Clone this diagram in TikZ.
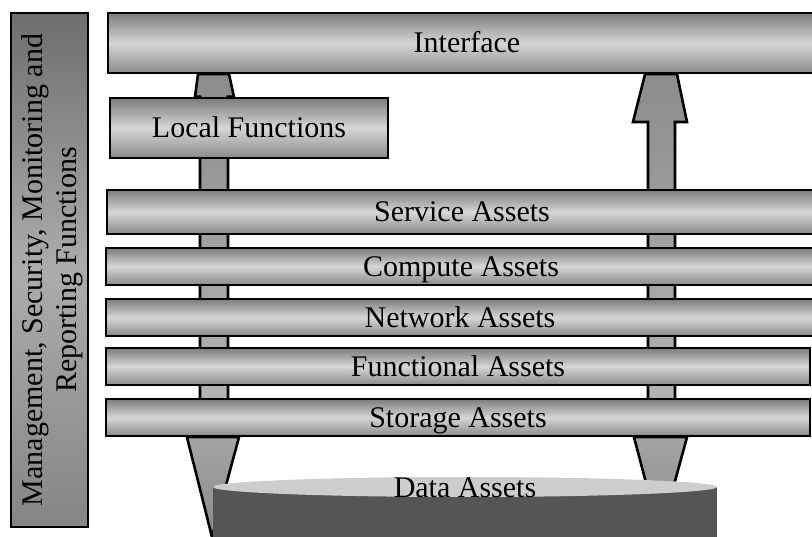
\documentclass[tikz,border=0pt]{standalone}
\usepackage{fontspec}
\setmainfont{Liberation Serif}
\usetikzlibrary{backgrounds}

\definecolor{barTop}{HTML}{7C7C7C}
\definecolor{barMid}{HTML}{D6D6D6}
\definecolor{barBot}{HTML}{8A8A8A}
\definecolor{sideTop}{HTML}{6E6E6E}
\definecolor{sideMid}{HTML}{ACACAC}
\definecolor{sideBot}{HTML}{858585}
\definecolor{flowTop}{HTML}{8C8C8C}
\definecolor{flowBot}{HTML}{B6B6B6}
\definecolor{sinkTop}{HTML}{A4A4A4}
\definecolor{sinkBot}{HTML}{8A8A8A}
\definecolor{dataTop}{HTML}{CDCDCD}
\definecolor{dataBody}{HTML}{555555}

\tikzset{
  layer/.style={draw=black, line width=2.4pt, top color=barTop, bottom color=barBot,
    middle color=barMid, inner sep=0pt, text height=20pt, text depth=0pt,
    font=\fontsize{30}{34}\selectfont},
  flow/.style={draw=black, line width=2.6pt, top color=flowTop, bottom color=flowBot},
  sink/.style={draw=black, line width=2.6pt, top color=sinkTop, bottom color=sinkBot},
}

\begin{document}
\begin{tikzpicture}[x=1pt,y=-1pt]
	\useasboundingbox (0,0) rectangle (812,537);
	\clip (0,0) rectangle (812,537);

	% side bar
	\draw[line width=2.4pt, top color=sideTop, bottom color=sideBot, middle color=sideMid]
		(11,13) rectangle (88,527);
	\node[rotate=90, align=center, font=\fontsize{30}{34}\selectfont] (mgmt) at (52,270)
		{Management, Security, Monitoring and\\Reporting Functions};

	% layers
	\node[layer, minimum width=718, minimum height=60] (iface) at (467,43) {Interface};
	\node[layer, minimum width=278, minimum height=60] (local) at (249,128) {Local Functions};
	\node[layer, minimum width=710, minimum height=44] (service) at (462,212) {Service Assets};
	\node[layer, minimum width=710, minimum height=37] (compute) at (461,266.5) {Compute Assets};
	\node[layer, minimum width=708, minimum height=37] (network) at (460,317.5) {Network Assets};
	\node[layer, minimum width=704, minimum height=37] (functional) at (458,366.5) {Functional Assets};
	\node[layer, minimum width=704, minimum height=37] (storage) at (458,417.5) {Storage Assets};

	\begin{scope}[on background layer]
		% flows up to the interface
		\draw[flow] (200,0 |- storage.center) -- (200,0 |- local.north) -- (195,0 |- local.north)
			-- (198,0 |- iface.south) -- (229,0 |- iface.south) -- (234,0 |- local.north)
			-- (228,0 |- local.north) -- (228,0 |- storage.center) -- cycle;
		\draw[flow] (648,0 |- storage.center) -- (648,122) -- (633,122)
			-- (645,0 |- iface.south) -- (677,0 |- iface.south) -- (687,122)
			-- (675,122) -- (675,0 |- storage.center) -- cycle;
		% down to the data
		\draw[sink] (187,0 |- storage.south) -- (239,0 |- storage.south) -- (212,537) -- cycle;
		\draw[sink] (634,0 |- storage.south) -- (687,0 |- storage.south) -- (660,536) -- cycle;
	\end{scope}

	% data store
	\fill[dataBody] (213,487) rectangle (717,545);
	\fill[dataTop] (465,487) ellipse [x radius=252, y radius=10];
	\node[inner sep=0pt, text height=20pt, text depth=0pt, font=\fontsize{30}{34}\selectfont]
		(data) at (465,487.5) {Data Assets};
\end{tikzpicture}
\end{document}
